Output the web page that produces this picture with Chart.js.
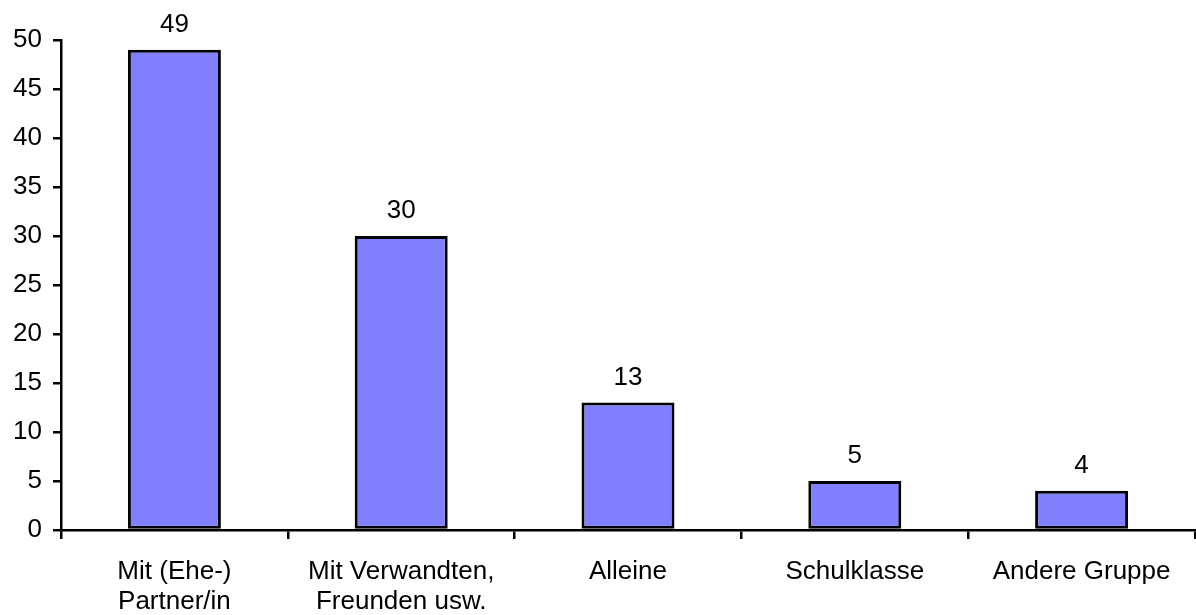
<!DOCTYPE html>
<html>
<head>
<meta charset="utf-8">
<script src="https://cdn.jsdelivr.net/npm/chart.js@4/dist/chart.umd.min.js"></script>
<style>
  html, body { margin: 0; padding: 0; background: #fff; }
  canvas { display: block; }
</style>
</head>
<body>
<canvas id="reiseChart" width="1196" height="615"></canvas>
<script>
// Kategorien (mehrzeilige Beschriftung) und Werte
const categories = [
    ['Mit (Ehe-)', 'Partner/in'],
    ['Mit Verwandten,', 'Freunden usw.'],
    'Alleine',
    'Schulklasse',
    'Andere Gruppe'
];
const values = [49, 30, 13, 5, 4];
const yTicks = [0, 5, 10, 15, 20, 25, 30, 35, 40, 45, 50];

const FONT = { family: '"Liberation Sans", Arial, sans-serif', size: 26, lineHeight: 1.15 };

// Werte über den Balken
const valueLabels = {
    id: 'valueLabels',
    afterDatasetsDraw(chart) {
        const ctx = chart.ctx;
        const meta = chart.getDatasetMeta(0);
        ctx.save();
        ctx.font = `${FONT.size}px ${FONT.family}`;
        ctx.fillStyle = '#000';
        ctx.textAlign = 'center';
        ctx.textBaseline = 'alphabetic';
        meta.data.forEach((bar, i) => {
            ctx.fillText(String(values[i]), bar.x, bar.y - 18);
        });
        ctx.restore();
    }
};

const ctx = document.getElementById('reiseChart').getContext('2d');
new Chart(ctx, {
    type: 'bar',
    data: {
        labels: categories,
        datasets: [{
            data: values,
            backgroundColor: '#8080ff',
            borderColor: '#000',
            borderWidth: 3,
            borderSkipped: false,
            categoryPercentage: 1,
            barPercentage: 0.41
        }]
    },
    options: {
        responsive: false,
        animation: false,
        layout: { padding: { top: 40, right: 1, left: 0, bottom: 0 } },
        plugins: {
            legend: { display: false },
            tooltip: { enabled: false }
        },
        scales: {
            x: {
                afterFit: scale => { scale.height = 85; },
                border: { display: true, color: '#000', width: 2.5 },
                grid: {
                    display: true,
                    drawOnChartArea: false,
                    drawTicks: true,
                    tickLength: 9,
                    color: '#000',
                    lineWidth: 2.5,
                    offset: true
                },
                ticks: {
                    color: '#000',
                    font: FONT,
                    padding: 18,
                    maxRotation: 0,
                    autoSkip: false
                }
            },
            y: {
                min: 0,
                max: 50,
                afterFit: scale => { scale.width = 61; },
                afterBuildTicks: scale => { scale.ticks = yTicks.map(v => ({ value: v })); },
                border: { display: true, color: '#000', width: 2.5 },
                grid: {
                    display: true,
                    drawOnChartArea: false,
                    drawTicks: true,
                    tickLength: 8,
                    color: '#000',
                    lineWidth: 2.5
                },
                ticks: {
                    color: '#000',
                    font: FONT,
                    padding: 11
                }
            }
        }
    },
    plugins: [valueLabels]
});
</script>
</body>
</html>
